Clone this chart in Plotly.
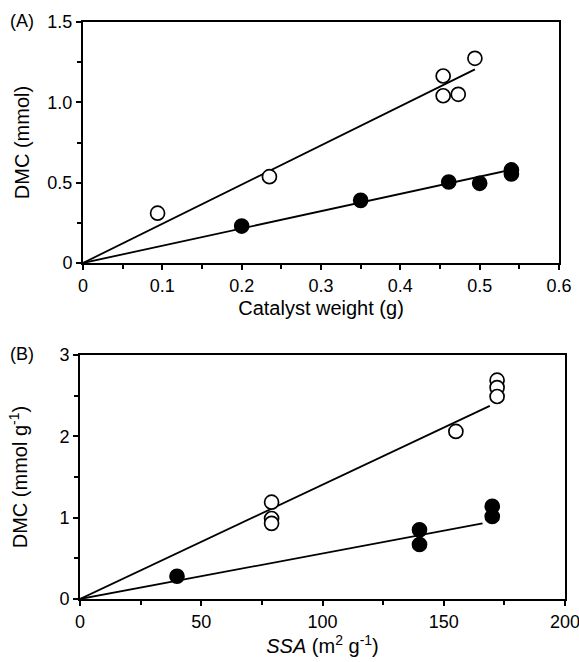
import plotly.graph_objects as go

# Panel A: DMC (mmol) vs catalyst weight (g)
a_open_x = [0.094, 0.235, 0.454, 0.454, 0.473, 0.494]
a_open_y = [0.31, 0.537, 1.164, 1.041, 1.05, 1.274]
a_fill_x = [0.20, 0.35, 0.461, 0.50, 0.540, 0.540]
a_fill_y = [0.23, 0.39, 0.504, 0.496, 0.579, 0.554]
# fitted lines through the origin: slope, end x
a_open_fit = [2.44, 0.494]
a_fill_fit = [1.075, 0.549]

# Panel B: DMC (mmol g-1) vs SSA (m2 g-1)
b_open_x = [79, 79, 79, 155, 172, 172, 172]
b_open_y = [1.19, 0.99, 0.93, 2.06, 2.69, 2.60, 2.49]
b_fill_x = [40, 140, 140, 170, 170]
b_fill_y = [0.28, 0.85, 0.67, 1.14, 1.015]
b_open_fit = [0.01405, 169]
b_fill_fit = [0.0056, 166]

a_xticks = [0, 0.1, 0.2, 0.3, 0.4, 0.5, 0.6]
a_xticktext = ["0", "0.1", "0.2", "0.3", "0.4", "0.5", "0.6"]
a_yticks = [0, 0.5, 1.0, 1.5]
a_yticktext = ["0", "0.5", "1.0", "1.5"]
b_xticks = [0, 50, 100, 150, 200]
b_yticks = [0, 1, 2, 3]

W, H = 579, 662
ML, MR, MT, MB = 80, 14, 22, 63
PW, PH = W - ML - MR, H - MT - MB
FONT = "Liberation Sans, Arial, sans-serif"


def px_x(p):
    return (p - ML) / PW


def px_y(p):
    return (H - MB - p) / PH


fig = go.Figure()


def add_fit(fit, xa, ya):
    fig.add_trace(go.Scatter(x=[0, fit[1]], y=[0, fit[0] * fit[1]], mode="lines",
                             line=dict(color="black", width=1.8),
                             xaxis=xa, yaxis=ya, showlegend=False, hoverinfo="skip"))


def add_pts(xs, ys, filled, xa, ya):
    fig.add_trace(go.Scatter(x=xs, y=ys, mode="markers",
                             marker=dict(size=14, color="black" if filled else "white",
                                         line=dict(color="black", width=1.7)),
                             xaxis=xa, yaxis=ya, showlegend=False, cliponaxis=False))


add_fit(a_open_fit, "x", "y")
add_fit(a_fill_fit, "x", "y")
add_pts(a_open_x, a_open_y, False, "x", "y")
add_pts(a_fill_x, a_fill_y, True, "x", "y")
add_fit(b_open_fit, "x2", "y2")
add_fit(b_fill_fit, "x2", "y2")
add_pts(b_open_x, b_open_y, False, "x2", "y2")
add_pts(b_fill_x, b_fill_y, True, "x2", "y2")

minor_common = dict(ticks="outside", ticklen=4, tickcolor="black", tickwidth=1.6)
axis_common = dict(showgrid=False, zeroline=False, showline=True, linecolor="black",
                   linewidth=2, mirror=True, ticks="outside", ticklen=5, tickwidth=1.6,
                   tickcolor="black", automargin=False, ticklabeloverflow="allow",
                   tickfont=dict(size=18, color="black", family=FONT))
title_font = dict(size=20, color="black", family=FONT)

fig.update_layout(
    width=W, height=H, margin=dict(l=ML, r=MR, t=MT, b=MB),
    plot_bgcolor="white", paper_bgcolor="white",
    font=dict(family=FONT, color="black"),
    xaxis=dict(**axis_common, domain=[px_x(83), px_x(559)], range=[0, 0.6],
               tickvals=a_xticks, ticktext=a_xticktext, anchor="y",
               minor=dict(dtick=0.05, **minor_common),
               title=dict(text="Catalyst weight (g)", font=title_font, standoff=6)),
    yaxis=dict(**axis_common, domain=[px_y(263), px_y(22)], range=[0, 1.5],
               tickvals=a_yticks, ticktext=a_yticktext, anchor="x",
               minor=dict(dtick=0.25, **minor_common),
               title=dict(text="DMC (mmol)", font=title_font, standoff=12)),
    xaxis2=dict(**axis_common, domain=[px_x(80), px_x(565)], range=[0, 200],
                tickvals=b_xticks, anchor="y2",
                minor=dict(dtick=25, **minor_common),
                title=dict(text="<i>SSA</i> (m<sup>2</sup> g<sup>-1</sup>)", font=title_font, standoff=6)),
    yaxis2=dict(**axis_common, domain=[px_y(599), px_y(355)], range=[0, 3],
                tickvals=b_yticks, anchor="x2",
                minor=dict(dtick=0.5, **minor_common),
                title=dict(text="DMC (mmol g<sup>-1</sup>)", font=title_font, standoff=26)),
    annotations=[
        dict(text="(A)", x=px_x(8), y=px_y(21), xref="paper", yref="paper",
             xanchor="left", yanchor="middle", showarrow=False,
             font=dict(size=18, color="black", family=FONT)),
        dict(text="(B)", x=px_x(8), y=px_y(354), xref="paper", yref="paper",
             xanchor="left", yanchor="middle", showarrow=False,
             font=dict(size=18, color="black", family=FONT)),
    ],
)

fig.write_html("out.html")
